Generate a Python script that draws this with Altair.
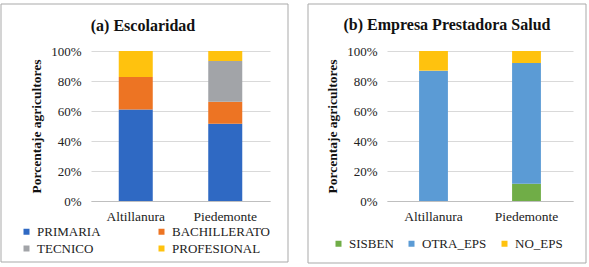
import altair as alt
import pandas as pd

# ---------------- data ----------------
regions = ["Altillanura", "Piedemonte"]

edu_levels = ["PRIMARIA", "BACHILLERATO", "TECNICO", "PROFESIONAL"]
primaria = [61.0, 51.5]
bachillerato = [21.7, 14.7]
tecnico = [0.0, 27.1]
profesional = [17.3, 6.7]

eps_levels = ["SISBEN", "OTRA_EPS", "NO_EPS"]
sisben = [0.0, 11.5]
otra_eps = [86.9, 80.5]
no_eps = [13.1, 8.0]

title_a = "(a) Escolaridad"
title_b = "(b) Empresa Prestadora Salud"
y_title = "Porcentaje agricultores"
y_ticks = [0, 0.2, 0.4, 0.6, 0.8, 1.0]

# ---------------- styles ----------------
edu_colors = ["#2F69C3", "#ED7423", "#A2A4A8", "#FFC20E"]
eps_colors = ["#70AD47", "#5B9BD5", "#FFC20E"]
SERIF = "Liberation Serif"
TXT = "#222222"


def long_table(levels, series):
    rows = []
    for li, (lvl, vals) in enumerate(zip(levels, series)):
        for reg, v in zip(regions, vals):
            rows.append({"region": reg, "level": lvl, "idx": li, "frac": v / 100.0})
    return pd.DataFrame(rows)


df_a = long_table(edu_levels, [primaria, bachillerato, tecnico, profesional])
df_b = long_table(eps_levels, [sisben, otra_eps, no_eps])
one = pd.DataFrame({"k": [0]})


def frame(x0, x1, y0, y1):
    return alt.Chart(one).mark_rect(
        fill="white", fillOpacity=0, stroke="#A9A9A9", strokeWidth=1
    ).encode(x=alt.value(x0), x2=alt.value(x1), y=alt.value(y0), y2=alt.value(y1))


def title_mark(text, x, y):
    return alt.Chart(one).mark_text(
        text=text, font=SERIF, fontWeight="bold", fontSize=16,
        align="center", baseline="middle", color="#111111"
    ).encode(x=alt.value(x), y=alt.value(y))


def bars(df, levels, colors, pad_in, legend):
    return alt.Chart(df).mark_bar().encode(
        x=alt.X(
            "region:N", sort=regions,
            scale=alt.Scale(paddingInner=pad_in, paddingOuter=pad_in / 2),
            axis=alt.Axis(title=None, labelAngle=0, ticks=False, grid=False,
                          domainColor="#BFBFBF", labelPadding=8,
                          labelFontSize=13.5, labelFont=SERIF, labelColor=TXT),
        ),
        y=alt.Y(
            "frac:Q", stack="zero",
            scale=alt.Scale(domain=[0, 1]),
            axis=alt.Axis(format="%", values=y_ticks, title=y_title,
                          domain=False, ticks=False, labelPadding=10,
                          gridColor="#D9D9D9", labelFontSize=13, labelFont=SERIF,
                          labelColor=TXT, titleFont=SERIF, titleFontSize=13.5,
                          titleFontWeight="bold", titleColor="#111111",
                          titlePadding=7),
        ),
        color=alt.Color("level:N", scale=alt.Scale(domain=levels, range=colors),
                        legend=legend),
        order=alt.Order("idx:Q", sort="ascending"),
    )


legend_a = alt.Legend(
    title=None, orient="none", legendX=-71, legendY=174, direction="horizontal",
    columns=2, columnPadding=54, rowPadding=3, padding=0,
    symbolType="square", symbolSize=36,
    labelFont=SERIF, labelFontSize=13, labelColor=TXT, labelOffset=4,
)
legend_b = alt.Legend(
    title=None, orient="none", legendX=-55, legendY=186, direction="horizontal",
    columns=3, columnPadding=11, padding=0,
    symbolType="square", symbolSize=36,
    labelFont=SERIF, labelFontSize=13, labelColor=TXT, labelOffset=4,
)

panel_a = alt.layer(
    frame(-90, 197, -47, 211),
    title_mark(title_a, 52, -25),
    bars(df_a, edu_levels, edu_colors, 0.62, legend_a),
).properties(width=179, height=150)

panel_b = alt.layer(
    frame(-79, 199, -47, 212),
    title_mark(title_b, 60, -26),
    bars(df_b, eps_levels, eps_colors, 0.69, legend_b),
).properties(width=186, height=150)

chart = alt.hconcat(panel_a, panel_b).properties(
    bounds="flush", spacing=117,
    padding={"left": 0, "top": 3, "right": 0, "bottom": 0},
    background="white",
).resolve_scale(color="independent").configure_view(stroke=None)

chart.save("out.html", embed_options={"renderer": "svg", "actions": False})
